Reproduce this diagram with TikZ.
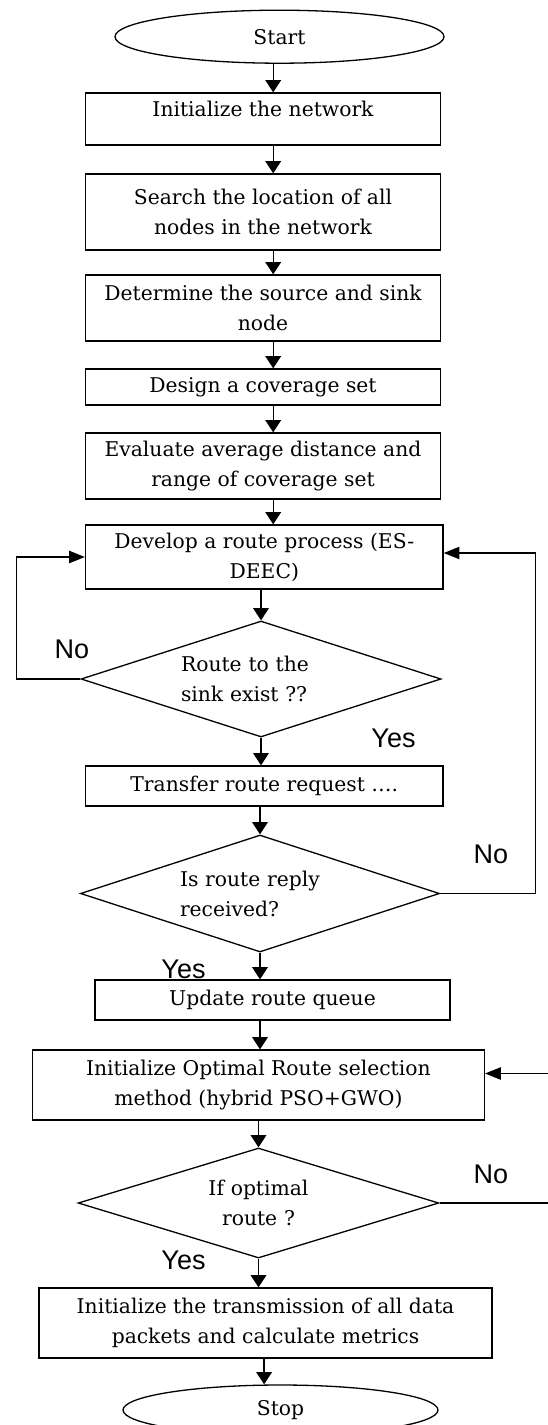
\documentclass[tikz,border=0pt]{standalone}
\usepackage{fontspec}
\setmainfont{DejaVu Serif}
\newfontfamily\labelfont{Liberation Sans}
\usetikzlibrary{shapes.geometric,arrows.meta}

\begin{document}
\begin{tikzpicture}[%
        x = 1pt, y = -1pt,
        line width = 1.3pt,
        every node/.style = {font=\fontsize{20.3}{30}\selectfont},
        terminal/.style = {draw, ellipse, inner sep=0pt},
        procbox/.style = {draw, rectangle, align=center, inner sep=0pt},
        decision/.style = {draw, diamond, aspect=3.1, inner sep=0pt, text width=160pt, align=left},
        answer/.style = {anchor=base, inner sep=0pt, font=\labelfont\fontsize{27}{32}\selectfont},
        arr/.style = {-{Triangle[width=15.7pt,length=12.3pt]}},
        harr/.style = {-{Triangle[width=12.3pt,length=15.7pt]}}
    ]
      \useasboundingbox (0,0) rectangle (547,1425);
      \coordinate (spineA) at (273.2,0);
      \coordinate (spineD) at (264.1,0);
      \coordinate (loopL) at (16.4,0);
      \coordinate (loopR) at (535.6,0);
      \coordinate (loopRR) at (552,0);

      \node[terminal, minimum width=329pt, minimum height=53pt] (start) at (279.5,36.7) {Start};
      \node[procbox, minimum width=355pt, minimum height=52pt, text depth=20pt] (init) at (263,119) {Initialize the network};
      \node[procbox, minimum width=355pt, minimum height=76pt] (search) at (263,212) {Search the location of all\\nodes in the network};
      \node[procbox, minimum width=355pt, minimum height=66pt] (determine) at (263,308) {Determine the source and sink\\node};
      \node[procbox, minimum width=355pt, minimum height=36pt] (design) at (263,387) {Design a coverage set};
      \node[procbox, minimum width=355pt, minimum height=66pt] (evaluate) at (263,466) {Evaluate average distance and\\range of coverage set};
      \node[procbox, minimum width=357.6pt, minimum height=64pt] (develop) at (264.3,557) {Develop a route process (ES-\\DEEC)};
      \node[decision, minimum width=360pt, minimum height=116pt] (exist) at (261,679) {Route to the\\sink exist ??};
      \node[procbox, minimum width=357.6pt, minimum height=40pt] (transfer) at (264.3,786) {Transfer route request \ldots.};
      \node[decision, minimum width=359pt, minimum height=117pt] (reply) at (260,893.5) {Is route reply\\received?};
      \node[procbox, minimum width=355.2pt, minimum height=40pt] (update) at (272.5,1000) {Update route queue};
      \node[procbox, minimum width=452pt, minimum height=70pt] (optimal) at (258.4,1085) {Initialize Optimal Route selection\\method (hybrid PSO+GWO)};
      \node[decision, minimum width=360.7pt, minimum height=110pt, align=center] (check) at (258.5,1203) {If optimal\\route ?};
      \node[procbox, minimum width=453pt, minimum height=70pt] (transmit) at (265.5,1323) {Initialize the transmission of all data\\packets and calculate metrics};
      \node[terminal, minimum width=315pt, minimum height=50pt] (stop) at (280.5,1410) {Stop};

      \node[answer] (no1) at (72,658) {No};
      \node[answer] (yes1) at (393.5,747) {Yes};
      \node[answer] (no2) at (491,863) {No};
      \node[answer] (yes2) at (183.5,978) {Yes};
      \node[answer] (no3) at (491,1183) {No};
      \node[answer] (yes3) at (183.5,1269) {Yes};

      \draw[arr] (start.south -| spineA) -- (init.north -| spineA);
      \draw[arr] (init.south -| spineA) -- (search.north -| spineA);
      \draw[arr] (search.south -| spineA) -- (determine.north -| spineA);
      \draw[arr] (determine.south -| spineA) -- (design.north -| spineA);
      \draw[arr] (design.south -| spineA) -- (evaluate.north -| spineA);
      \draw[arr] (evaluate.south -| spineA) -- (develop.north -| spineA);
      \draw[arr] (develop.south -| exist) -- (exist.north);
      \draw[arr] (exist.south) -- (transfer.north -| exist);
      \draw[harr] (exist.west) -- (exist.west -| loopL) |- (develop.west);
      \draw[arr] (transfer.south -| reply) -- (reply.north);
      \draw[harr] (reply.east) -- (reply.east -| loopR) |- ([yshift=4pt]develop.east);
      \draw[arr] (reply.south) -- (update.north -| reply);
      \draw[arr] (update.south -| reply) -- (optimal.north -| reply);
      \draw[arr] (optimal.south -| check) -- (check.north);
      \draw[harr] (check.east) -- (check.east -| loopRR) |- ([yshift=11.5pt]optimal.east);
      \draw[arr] (check.south) -- (transmit.north -| check);
      \draw[arr] (transmit.south -| spineD) -- (stop.north -| spineD);
    \end{tikzpicture}
\end{document}
